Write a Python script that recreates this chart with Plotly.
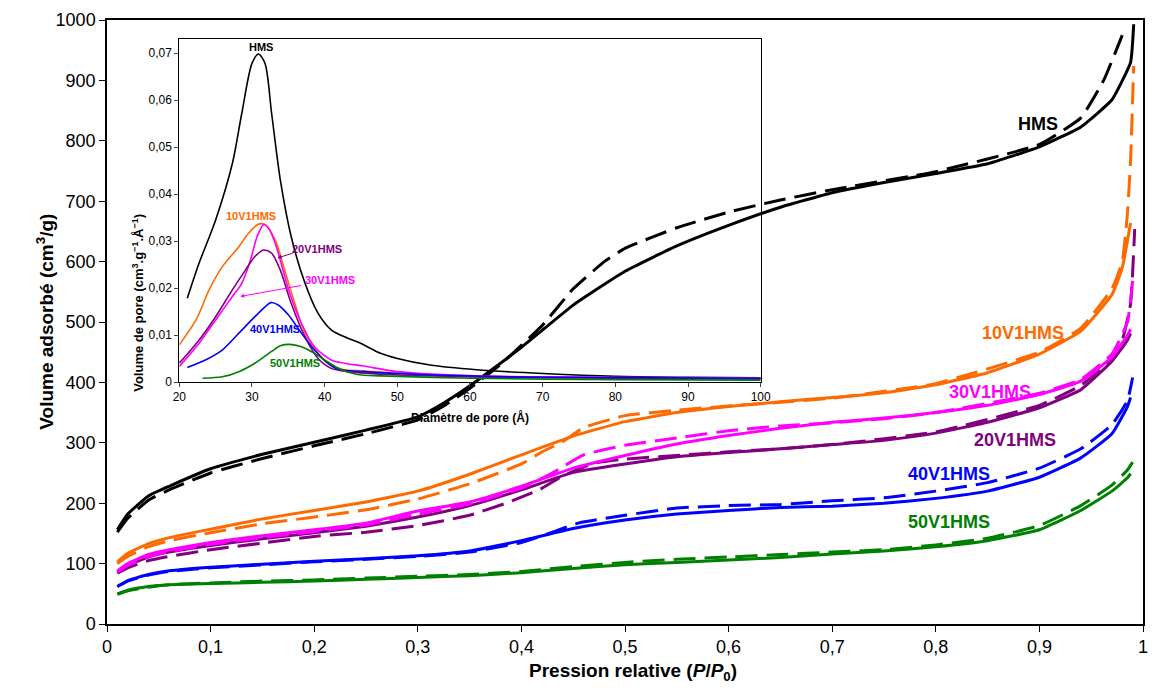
import plotly.graph_objects as go

# ---------------- Main isotherms (P/P0 vs volume adsorbed) ----------------
P_HMS_ads = [0.01, 0.02, 0.04, 0.06, 0.1, 0.15, 0.2, 0.25, 0.3, 0.325, 0.35, 0.4, 0.45, 0.5, 0.55, 0.6, 0.65, 0.7, 0.75, 0.8, 0.85, 0.9, 0.94, 0.97, 0.988, 0.991]
V_HMS_ads = [156, 182, 212, 228, 257, 281, 301, 321, 343, 366, 394, 458, 528, 584, 626, 660, 690, 714, 731, 746, 762, 790, 823, 868, 930, 993]
P_HMS_des = [0.01, 0.02, 0.04, 0.06, 0.1, 0.15, 0.2, 0.25, 0.3, 0.325, 0.35, 0.38, 0.42, 0.45, 0.48, 0.5, 0.55, 0.6, 0.65, 0.7, 0.8, 0.9, 0.94, 0.962, 0.98]
V_HMS_des = [152, 175, 205, 222, 250, 274, 295, 315, 338, 361, 390, 430, 494, 555, 600, 622, 656, 682, 702, 719, 749, 794, 838, 900, 975]

P_10_ads = [0.01, 0.02, 0.04, 0.06, 0.1, 0.15, 0.2, 0.25, 0.3, 0.35, 0.4, 0.45, 0.5, 0.55, 0.6, 0.65, 0.7, 0.75, 0.8, 0.85, 0.9, 0.94, 0.97, 0.98, 0.988]
V_10_ads = [103, 117, 133, 143, 157, 174, 188, 202, 220, 248, 280, 311, 335, 350, 360, 368, 375, 383, 396, 416, 447, 485, 545, 590, 664]
P_10_des = [0.01, 0.02, 0.04, 0.06, 0.1, 0.15, 0.2, 0.25, 0.3, 0.35, 0.4, 0.42, 0.44, 0.46, 0.5, 0.55, 0.6, 0.65, 0.7, 0.8, 0.9, 0.94, 0.97, 0.98, 0.985, 0.988, 0.991]
V_10_des = [100, 112, 128, 138, 151, 166, 177, 189, 207, 232, 265, 285, 302, 325, 345, 354, 361, 367, 374, 398, 450, 490, 555, 600, 680, 767, 924]

P_30_ads = [0.01, 0.02, 0.04, 0.06, 0.1, 0.15, 0.2, 0.25, 0.3, 0.35, 0.4, 0.45, 0.5, 0.55, 0.6, 0.65, 0.7, 0.75, 0.8, 0.85, 0.9, 0.94, 0.97, 0.985, 0.988]
V_30_ads = [88, 100, 115, 123, 135, 146, 156, 167, 187, 202, 228, 258, 279, 298, 312, 324, 334, 341, 350, 362, 380, 402, 442, 478, 488]
P_30_des = [0.01, 0.02, 0.04, 0.06, 0.1, 0.15, 0.2, 0.25, 0.3, 0.35, 0.4, 0.43, 0.46, 0.5, 0.55, 0.6, 0.65, 0.7, 0.75, 0.8, 0.9, 0.94, 0.97, 0.985, 0.99]
V_30_des = [86, 97, 112, 120, 132, 143, 153, 164, 182, 199, 225, 250, 280, 296, 308, 320, 328, 333, 340, 350, 382, 405, 447, 500, 568]

P_20_ads = [0.01, 0.02, 0.04, 0.06, 0.1, 0.15, 0.2, 0.25, 0.3, 0.35, 0.4, 0.45, 0.5, 0.55, 0.6, 0.65, 0.7, 0.75, 0.8, 0.85, 0.9, 0.94, 0.97, 0.985, 0.988]
V_20_ads = [86, 97, 111, 119, 130, 141, 151, 162, 177, 196, 222, 251, 265, 277, 284, 290, 297, 304, 316, 334, 358, 388, 435, 470, 481]
P_20_des = [0.01, 0.02, 0.04, 0.06, 0.1, 0.15, 0.2, 0.25, 0.3, 0.35, 0.385, 0.417, 0.44, 0.47, 0.5, 0.55, 0.6, 0.65, 0.7, 0.8, 0.9, 0.94, 0.97, 0.98, 0.988, 0.992]
V_20_des = [84, 93, 105, 112, 123, 134, 145, 152, 163, 180, 200, 222, 245, 266, 273, 279, 285, 290, 297, 318, 362, 395, 440, 470, 530, 654]

P_40_ads = [0.01, 0.02, 0.04, 0.06, 0.1, 0.15, 0.2, 0.25, 0.3, 0.35, 0.4, 0.45, 0.5, 0.55, 0.6, 0.65, 0.7, 0.75, 0.8, 0.85, 0.9, 0.94, 0.97, 0.985, 0.988]
V_40_ads = [62, 72, 82, 88, 94, 99, 104, 108, 113, 121, 138, 158, 172, 182, 188, 193, 195, 200, 208, 220, 243, 275, 315, 360, 375]
P_40_des = [0.01, 0.02, 0.04, 0.06, 0.1, 0.15, 0.2, 0.25, 0.3, 0.35, 0.4, 0.43, 0.455, 0.5, 0.55, 0.6, 0.65, 0.7, 0.75, 0.8, 0.85, 0.9, 0.94, 0.97, 0.985, 0.99]
V_40_des = [62, 71, 81, 87, 93, 98, 103, 107, 112, 119, 135, 152, 167, 180, 192, 196, 198, 204, 209, 220, 234, 258, 290, 330, 370, 408]

P_50_ads = [0.01, 0.02, 0.04, 0.06, 0.1, 0.15, 0.2, 0.25, 0.3, 0.35, 0.4, 0.45, 0.5, 0.55, 0.6, 0.65, 0.7, 0.75, 0.8, 0.85, 0.9, 0.94, 0.97, 0.985, 0.988]
V_50_ads = [50, 56, 62, 65, 67, 69, 71, 74, 77, 80, 85, 92, 98, 102, 106, 110, 116, 121, 128, 138, 156, 188, 220, 242, 249]
P_50_des = [0.01, 0.02, 0.04, 0.06, 0.1, 0.15, 0.2, 0.25, 0.3, 0.35, 0.4, 0.45, 0.5, 0.55, 0.6, 0.65, 0.7, 0.75, 0.8, 0.85, 0.9, 0.94, 0.97, 0.985, 0.99]
V_50_des = [49, 55, 61, 65, 68, 71, 73, 76, 79, 82, 87, 95, 102, 107, 111, 115, 119, 123, 131, 142, 163, 196, 230, 255, 268]

# ---------------- Inset: pore size distribution ----------------
D_HMS = [21.1, 22.7, 25, 27.3, 28.6, 30, 30.9, 31.8, 32.7, 33.9, 35.4, 37.3, 39.1, 40.9, 43.2, 45, 47.7, 50, 54.5, 60.9, 70, 80, 90, 100]
v_HMS = [0.0178, 0.0252, 0.0345, 0.0465, 0.0572, 0.0678, 0.0698, 0.0678, 0.0572, 0.043, 0.0309, 0.021, 0.0146, 0.0111, 0.0093, 0.0082, 0.0061, 0.005, 0.0036, 0.0026, 0.0018, 0.0012, 0.001, 0.0009]
D_10 = [20, 22.3, 24.1, 25.9, 28.2, 29.5, 30.9, 31.8, 33.2, 34.5, 35.9, 37.3, 39.1, 40.9, 42.7, 45.4, 50, 60, 70, 80, 100]
v_10 = [0.0079, 0.0132, 0.0196, 0.0245, 0.0288, 0.0316, 0.0336, 0.0335, 0.0302, 0.0238, 0.0167, 0.0104, 0.0061, 0.0036, 0.0026, 0.0024, 0.0018, 0.0012, 0.001, 0.0009, 0.0008]
D_20 = [20, 22.7, 25, 27.3, 29.1, 30.4, 31.6, 32.7, 33.9, 35.4, 37.3, 39.1, 40.9, 43.2, 50, 60, 70, 100]
v_20 = [0.004, 0.0089, 0.0139, 0.0196, 0.0238, 0.0267, 0.0281, 0.0274, 0.0238, 0.0167, 0.0096, 0.005, 0.0029, 0.0022, 0.0015, 0.0011, 0.0009, 0.0006]
D_30 = [20, 22.7, 25, 27.3, 28.6, 29.8, 30.7, 31.6, 32.3, 33.2, 35.2, 36.8, 38.6, 40.9, 42.7, 45.4, 50, 60.9, 70, 80, 100]
v_30 = [0.0033, 0.0082, 0.0132, 0.0182, 0.021, 0.026, 0.0309, 0.0335, 0.0327, 0.0295, 0.0189, 0.0125, 0.0075, 0.0047, 0.004, 0.0034, 0.0022, 0.0013, 0.0011, 0.001, 0.0008]
D_40 = [21.1, 23.6, 25.9, 28.2, 30.4, 31.8, 32.6, 33.6, 35, 36.8, 38.6, 40.4, 41.8, 45.4, 55, 70, 100]
v_40 = [0.0031, 0.0047, 0.0068, 0.0104, 0.0139, 0.016, 0.0169, 0.0164, 0.0143, 0.0104, 0.0068, 0.004, 0.0027, 0.0022, 0.0015, 0.001, 0.0008]
D_50 = [23.2, 25.9, 28.2, 30.4, 32.7, 33.9, 35.2, 36.8, 38.6, 40.4, 42.3, 44.5, 47.7, 60, 80, 100]
v_50 = [0.0008, 0.0011, 0.0022, 0.004, 0.0065, 0.0077, 0.008, 0.0075, 0.0061, 0.0043, 0.0026, 0.0016, 0.0013, 0.0008, 0.0005, 0.0004]

samples = ["HMS", "10V1HMS", "20V1HMS", "30V1HMS", "40V1HMS", "50V1HMS"]
colors = {"HMS": "#000000", "10V1HMS": "#FF6A00", "20V1HMS": "#800080",
          "30V1HMS": "#FF00FF", "40V1HMS": "#0000FF", "50V1HMS": "#008000"}

iso = {
    "HMS": (P_HMS_ads, V_HMS_ads, P_HMS_des, V_HMS_des),
    "10V1HMS": (P_10_ads, V_10_ads, P_10_des, V_10_des),
    "20V1HMS": (P_20_ads, V_20_ads, P_20_des, V_20_des),
    "30V1HMS": (P_30_ads, V_30_ads, P_30_des, V_30_des),
    "40V1HMS": (P_40_ads, V_40_ads, P_40_des, V_40_des),
    "50V1HMS": (P_50_ads, V_50_ads, P_50_des, V_50_des),
}
psd = {
    "HMS": (D_HMS, v_HMS), "10V1HMS": (D_10, v_10), "20V1HMS": (D_20, v_20),
    "30V1HMS": (D_30, v_30), "40V1HMS": (D_40, v_40), "50V1HMS": (D_50, v_50),
}

fig = go.Figure()

for s in ["HMS", "10V1HMS", "30V1HMS", "20V1HMS", "40V1HMS", "50V1HMS"]:
    d, v = psd[s]
    fig.add_trace(go.Scatter(x=d, y=v, mode="lines", xaxis="x2", yaxis="y2",
                             line=dict(color=colors[s], width=1.6, shape="spline", smoothing=0.8),
                             showlegend=False, hoverinfo="skip"))

for s in samples:
    pa, va, pd_, vd = iso[s]
    fig.add_trace(go.Scatter(x=pa, y=va, mode="lines",
                             line=dict(color=colors[s], width=3, shape="spline", smoothing=0.4),
                             showlegend=False))
    fig.add_trace(go.Scatter(x=pd_, y=vd, mode="lines",
                             line=dict(color=colors[s], width=3, dash="22px,9px", shape="spline", smoothing=0.4),
                             showlegend=False))

L, R, T, B = 107, 3, 20, 75
W, H = 1156, 699
PW, PH = W - L - R, H - T - B

def px2paper(px, py):
    return (px - L) / PW, (H - B - py) / PH

ix0, iy0 = px2paper(180, 382)
ix1, iy1 = px2paper(767, 39)

tickfont_main = dict(family="Liberation Sans, Arial, sans-serif", size=18, color="black")
narrow = "Liberation Sans Narrow, Arial Narrow, Liberation Sans, Arial, sans-serif"

fig.update_layout(
    width=W, height=H,
    margin=dict(l=L, r=R, t=T, b=B),
    paper_bgcolor="white", plot_bgcolor="rgba(0,0,0,0)",
    separators=", ",
    showlegend=False,
    xaxis=dict(range=[0, 1], dtick=0.1, tick0=0, showgrid=False, zeroline=False,
               showline=True, linecolor="black", linewidth=1.5, mirror=True,
               ticks="outside", ticklen=6, tickcolor="black",
               tickfont=dict(family=narrow, size=18, color="black")),
    yaxis=dict(range=[0, 1000], dtick=100, showgrid=False, zeroline=False,
               showline=True, linecolor="black", linewidth=1.5, mirror=True,
               ticks="outside", ticklen=6, tickcolor="black",
               tickfont=tickfont_main),
    xaxis2=dict(domain=[ix0, ix1], anchor="y2", range=[20, 100], dtick=10,
                showgrid=False, zeroline=False, showline=True, linecolor="black",
                linewidth=1, mirror=True, ticks="outside", ticklen=4,
                tickfont=dict(family=narrow, size=12, color="black")),
    yaxis2=dict(domain=[iy0, iy1], anchor="x2", range=[0, 0.073], dtick=0.01,
                showgrid=False, zeroline=False, showline=True, linecolor="black",
                linewidth=1, mirror=True, ticks="outside", ticklen=4,
                tickfont=dict(family=narrow, size=12, color="black")),
)

ann = []
x, y = px2paper(30, 322)
ann.append(dict(x=x, y=y, xref="paper", yref="paper", textangle=-90, showarrow=False,
                text="<b>Volume adsorbé (cm<sup>3</sup>/g)</b>",
                font=dict(family="Liberation Sans, Arial", size=19, color="black")))
x, y = px2paper(638, 686)
ann.append(dict(x=x, y=y, xref="paper", yref="paper", showarrow=False,
                text="<b>Pression relative (<i>P</i>/<i>P</i><sub>0</sub>)</b>",
                font=dict(family="Liberation Sans, Arial", size=19, color="black")))
x, y = px2paper(128, 212)
ann.append(dict(x=x, y=y, xref="paper", yref="paper", textangle=-90, showarrow=False,
                text="<b>Volume de pore (cm<sup>3</sup>.g<sup>\u22121</sup>.Å<sup>\u22121</sup>)</b>",
                font=dict(family="Liberation Sans, Arial", size=13, color="black")))
x, y = px2paper(473, 418)
ann.append(dict(x=x, y=y, xref="paper", yref="paper", showarrow=False,
                text="<b>Diamètre de pore (Å)</b>",
                font=dict(family=narrow, size=12, color="black")))

main_labels = {"HMS": (0.899, 828), "10V1HMS": (0.884, 482), "30V1HMS": (0.852, 384),
               "20V1HMS": (0.876, 305), "40V1HMS": (0.813, 248), "50V1HMS": (0.813, 169)}
for s, (lx, ly) in main_labels.items():
    ann.append(dict(x=lx, y=ly, xref="x", yref="y", showarrow=False, text=f"<b>{s}</b>",
                    font=dict(family="Liberation Sans, Arial", size=18, color=colors[s])))

inset_labels = {"HMS": (31.2, 0.0712), "10V1HMS": (29.8, 0.0353), "40V1HMS": (33.2, 0.0113),
                "50V1HMS": (35.9, 0.0040)}
for s, (lx, ly) in inset_labels.items():
    ann.append(dict(x=lx, y=ly, xref="x2", yref="y2", showarrow=False, text=f"<b>{s}</b>",
                    font=dict(family=narrow, size=11, color=colors[s])))
ann.append(dict(x=33.5, y=0.0264, xref="x2", yref="y2", ax=35.8, ay=0.0275, axref="x2", ayref="y2",
                showarrow=True, arrowhead=2, arrowsize=0.8, arrowwidth=1, arrowcolor=colors["20V1HMS"],
                text=""))
ann.append(dict(x=38.9, y=0.0283, xref="x2", yref="y2", showarrow=False, text="<b>20V1HMS</b>",
                font=dict(family=narrow, size=11, color=colors["20V1HMS"])))
ann.append(dict(x=28.4, y=0.0182, xref="x2", yref="y2", ax=37.0, ay=0.0206, axref="x2", ayref="y2",
                showarrow=True, arrowhead=2, arrowsize=0.8, arrowwidth=1, arrowcolor=colors["30V1HMS"],
                text=""))
ann.append(dict(x=40.7, y=0.0217, xref="x2", yref="y2", showarrow=False, text="<b>30V1HMS</b>",
                font=dict(family=narrow, size=11, color=colors["30V1HMS"])))

fig.update_layout(annotations=ann)

fig.write_html("out.html")
